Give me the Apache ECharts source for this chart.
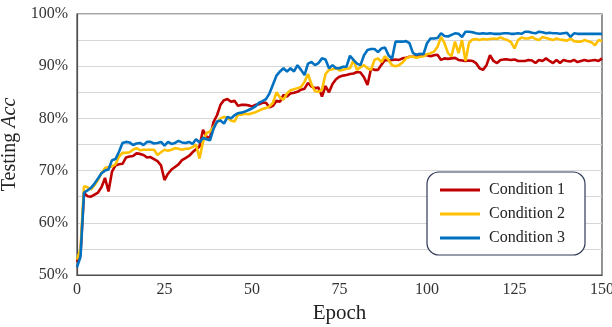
<!DOCTYPE html>
<html lang="en">
<head>
    <meta charset="utf-8">
    <title>Testing Acc</title>
    <script src="https://cdn.jsdelivr.net/npm/echarts@6/dist/echarts.min.js"></script>
    <style>
        html, body { margin: 0; padding: 0; background: #fff; }
        #main { width: 612px; height: 327px; }
    </style>
</head>
<body>
    <div id="main"></div>
    <script type="text/javascript">
    // epochs 0..150
    var epochs = [];
    for (var i = 0; i <= 150; i++) epochs.push(i);

    var cond1 = [52.5,54,65.7,65.1,65,65.4,65.8,66.8,68.6,66,69.8,71,71.2,71.3,72.5,72.7,72.8,73.3,73.2,73,
        72.5,72.6,72.2,71.8,71,68.2,69.4,70.2,70.7,71.2,72,72.4,72.8,73.5,74.1,74.6,77.8,76.5,76.3,79.3,
        80.6,82.6,83.5,83.7,83.2,83.4,82.4,82.6,82.6,82.5,82.3,82.6,82.7,83,83,82.1,82.4,83.4,83.2,84.5,
        84.2,84.8,84.9,85.1,85.5,85.7,86.8,86.1,85.8,85.9,84.2,86.2,85,86.6,87.5,88,88.2,88.3,88.5,88.6,
        88.9,88.8,87.9,86.4,89.5,89.3,89.3,90.3,91.2,91.1,91.2,91.3,91.2,91.5,91.6,91.8,91.8,91.9,92,92.2,
        92.1,91.9,92.1,92.2,91.2,91.5,91.4,91.5,91.6,91.2,91.1,91,91.1,91,90.6,89.6,89.3,90.2,92.1,91,
        90.6,91.2,91.3,91.3,91.2,91.3,91,91,91,91.2,91.1,90.6,91.2,91,91.5,91,90.6,91.2,90.6,91.2,
        91,90.9,91.2,90.8,91,91.2,91,91.1,91.2,91,91.5];

    var cond2 = [53,55,67,66.8,66.4,67.2,68.2,69.5,70.5,70.7,70.8,71.2,72.7,73.4,73.4,73.5,74,74.3,73.9,74,
        74,74,74,73,73.5,74,73.8,74,74.3,74.2,74,74.2,74.2,74.5,75,72.3,75.5,77.2,77.5,78.4,
        79.2,80,80.3,80.1,79.6,79.4,80.7,80.7,80.9,80.8,81,81.2,81.5,81.8,82,82.3,83,85,84,83.6,
        84.8,85.4,85.6,85.8,86,87,88.5,86.5,85.2,85.1,85.5,88.5,89.3,89.4,89.6,89.2,89.3,89.5,89.6,91.2,
        89.3,89.8,90.2,89.6,89.3,91.2,91.5,90.8,91.9,91.2,90.2,90,90.2,90.7,91.5,91.8,91.8,91.6,91.8,91.9,
        92.3,92.5,92.8,93.7,95.6,94.4,92.5,91.9,94.7,92.5,95,91,94.5,95.1,95.2,95,95.2,95.1,95.2,95.3,
        95.2,95.5,95.2,95,94.6,93.4,95,95.5,95.3,95.3,95.6,95.2,95,95.6,95.4,95.2,95,95.3,95.1,95,
        94.9,95.3,94.8,94.7,94.7,95,94.8,94.6,94,95,94.8];

    var cond3 = [51.5,53.5,65.8,66.2,66.7,67.5,68.5,69.5,70,70.2,72,72.2,73.6,75.3,75.5,75.4,74.9,75.2,75.3,74.9,
        75.5,75.5,75.2,75.3,75.5,74.8,75.5,75.1,75.3,75.7,75.4,75.3,75.5,75.1,76,75.4,76.3,76,75.8,78,
        79.4,79.6,79,80.3,80,80.6,81,81.1,81.3,81.6,81.9,82.3,83,83.3,83.7,84.8,86.5,88.2,89,89.6,
        89,89.6,89,90.2,89.3,88.3,90.5,90.8,90.2,90.6,91.5,91.3,89.6,90.2,89.6,89.6,89.9,89.9,92,91.2,
        90.5,90.2,92.1,93.1,93.3,93.3,92.7,93.4,93.6,92.1,91.4,94.7,94.7,94.7,94.8,94.4,92.5,92.2,92.4,92.3,
        94.4,95.3,95.3,95.4,96.3,95.8,95.7,96,96.3,96.2,95.6,96.6,96.6,96.5,96.3,96.2,96.3,96.2,96.3,96.2,
        96.2,96.2,96.3,96.3,96.2,96.2,96.3,96.2,96.6,96.6,96.4,96.3,96.6,96.5,96.3,96.4,96.3,96.3,96.2,96.3,
        96.4,95.6,96.3,96.2,96.2,96.2,96.2,96.2,96.2,96.2,96.2];

    var names = ['Condition 1', 'Condition 2', 'Condition 3'];
    var colors = ['#C00000', '#FFC000', '#0070C0'];
    var values = [cond1, cond2, cond3];

    var serif = 'Liberation Serif';
    var myChart = echarts.init(document.getElementById('main'));

    var series = names.map(function (n, k) {
        return {
            name: n,
            type: 'line',
            showSymbol: false,
            symbol: 'none',
            lineStyle: { width: 2.6, color: colors[k] },
            itemStyle: { color: colors[k] },
            data: epochs.map(function (e, j) { return [e, values[k][j]]; })
        };
    });

    myChart.setOption({
        animation: false,
        grid: {
            left: 77, right: 10, top: 14, bottom: 52,
            outerBoundsMode: 'none',
            containLabel: false,
            show: true, borderColor: '#4d4d4d', borderWidth: 1.2
        },
        legend: {
            orient: 'vertical',
            left: 427, top: 172,
            padding: [10, 20, 9, 13],
            itemGap: 8,
            itemWidth: 40, itemHeight: 3,
            icon: 'rect',
            backgroundColor: '#fff',
            borderColor: '#2f3a56', borderWidth: 1.2, borderRadius: 12,
            textStyle: { fontFamily: serif, fontSize: 16, color: '#222', padding: [0, 0, 0, 4] },
            data: names
        },
        xAxis: {
            type: 'value', min: 0, max: 150, interval: 25,
            name: 'Epoch', nameLocation: 'middle', nameGap: 25,
            nameTextStyle: { fontFamily: serif, fontSize: 21, color: '#222' },
            axisLine: { lineStyle: { color: '#4d4d4d', width: 1.2 } },
            axisTick: { show: false },
            splitLine: { show: false },
            axisLabel: { fontFamily: serif, fontSize: 16, color: '#333', margin: 7 }
        },
        yAxis: {
            type: 'value', min: 50, max: 100, interval: 5,
            name: '{a|Testing }{b|Acc}', nameLocation: 'middle', nameGap: 46,
            nameTextStyle: {
                rich: {
                    a: { fontFamily: serif, fontSize: 20, color: '#222' },
                    b: { fontFamily: serif, fontSize: 20, fontStyle: 'italic', color: '#222' }
                }
            },
            axisLine: { show: true, lineStyle: { color: '#4d4d4d', width: 1.2 } },
            axisTick: { show: false },
            splitLine: { lineStyle: { color: '#d6d6d6', width: 1 } },
            axisLabel: {
                fontFamily: serif, fontSize: 16, color: '#333', margin: 9,
                formatter: function (v) { return v % 10 === 0 ? v + '%' : ''; }
            }
        },
        series: series
    });
    </script>
</body>
</html>
